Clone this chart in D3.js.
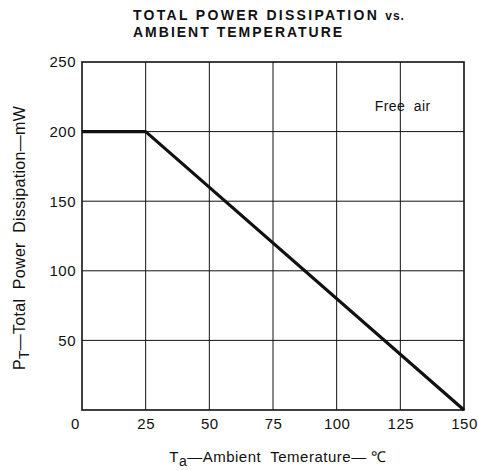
<!DOCTYPE html>
<html>
<head>
<meta charset="utf-8">
<script src="https://cdn.jsdelivr.net/npm/d3@7"></script>
<style>
  body { margin: 0; background: #fff; }
  text { font-family: "Liberation Sans", Arial, sans-serif; fill: #111; white-space: pre; }
</style>
</head>
<body>
<div id="chart"></div>
<script>
const temps = [0, 25, 150];
const power = [200, 200, 0];
const xTicks = [0, 25, 50, 75, 100, 125, 150];
const yTicks = [0, 50, 100, 150, 200, 250];

function drawChart(selectorContainer) {
  const width = 478, height = 470;
  const margin = { top: 62, right: 14, bottom: 60, left: 82 };
  const w = width - margin.left - margin.right,
    h = height - margin.top - margin.bottom;

  const svg = d3.select(selectorContainer).append("svg")
    .attr("width", width)
    .attr("height", height);

  // title
  const title = svg.append("text")
    .attr("x", 133)
    .attr("y", 20)
    .style("font-size", "14px")
    .style("font-weight", "bold")
    .style("letter-spacing", "2.3px");
  title.append("tspan").text("TOTAL POWER DISSIPATION ");
  title.append("tspan").style("font-size", "12px").style("letter-spacing", "1px").text("vs.");
  svg.append("text")
    .attr("x", 133)
    .attr("y", 37)
    .style("font-size", "14px")
    .style("font-weight", "bold")
    .style("letter-spacing", "2px")
    .text("AMBIENT TEMPERATURE");

  const g = svg.append("g")
    .attr("transform", "translate(" + margin.left + "," + margin.top + ")");

  const x = d3.scaleLinear().domain([0, 150]).range([0, w]);
  const y = d3.scaleLinear().domain([0, 250]).range([h, 0]);

  // grid
  g.append("g")
    .selectAll("line")
    .data(xTicks.slice(1, -1))
    .enter().append("line")
    .attr("x1", d => x(d)).attr("x2", d => x(d))
    .attr("y1", 0).attr("y2", h)
    .attr("stroke", "#111").attr("stroke-width", 1);
  g.append("g")
    .selectAll("line")
    .data(yTicks.slice(1, -1))
    .enter().append("line")
    .attr("x1", 0).attr("x2", w)
    .attr("y1", d => y(d)).attr("y2", d => y(d))
    .attr("stroke", "#111").attr("stroke-width", 1);

  // frame
  g.append("rect")
    .attr("width", w).attr("height", h)
    .attr("fill", "none")
    .attr("stroke", "#111")
    .attr("stroke-width", 1.6);

  // axes labels
  const xAxis = d3.axisBottom(x).tickValues(xTicks).tickSize(0).tickPadding(8);
  const yAxis = d3.axisLeft(y).tickValues(yTicks).tickSize(0).tickPadding(6);
  const gx = g.append("g").attr("transform", "translate(0," + h + ")").call(xAxis);
  const gy = g.append("g").call(yAxis);
  gx.select(".domain").remove();
  gy.select(".domain").remove();
  gx.selectAll("text").style("font-size", "15px").style("font-family", "Liberation Sans, Arial, sans-serif").style("letter-spacing", "0.5px");
  gy.selectAll("text").style("font-size", "15px").style("font-family", "Liberation Sans, Arial, sans-serif").style("letter-spacing", "0.5px");
  gx.selectAll(".tick").filter(d => d === 0).select("text").attr("dx", -7);
  gy.selectAll(".tick").filter(d => d === 0).remove();

  // data line
  const line = d3.line().x(d => x(d[0])).y(d => y(d[1]));
  g.append("path")
    .datum(temps.map((t, i) => [t, power[i]]))
    .attr("d", line)
    .attr("fill", "none")
    .attr("stroke", "#111")
    .attr("stroke-width", 3.2)
    .attr("stroke-linejoin", "round");

  // note
  g.append("text")
    .attr("x", x(115))
    .attr("y", y(215))
    .style("font-size", "14px")
    .style("letter-spacing", "0.4px")
    .text("Free  air");

  // x title
  const xt = svg.append("text")
    .attr("x", 278)
    .attr("y", 462)
    .attr("text-anchor", "middle")
    .style("font-size", "15px")
    .style("letter-spacing", "0.5px");
  xt.append("tspan").text("T");
  xt.append("tspan").attr("dy", 4).style("font-size", "14px").text("a");
  xt.append("tspan").attr("dy", -4).text("\u2014Ambient  Temerature\u2014 \u2103");

  // y title
  const yt = svg.append("text")
    .attr("transform", "translate(25," + 238 + ") rotate(-90)")
    .attr("text-anchor", "middle")
    .style("font-size", "16px")
    .style("letter-spacing", "0.3px");
  yt.append("tspan").text("P");
  yt.append("tspan").attr("dy", 4).style("font-size", "14px").text("T");
  yt.append("tspan").attr("dy", -4).text("\u2014Total  Power  Dissipation\u2014mW");
}

drawChart("#chart");
</script>
</body>
</html>
